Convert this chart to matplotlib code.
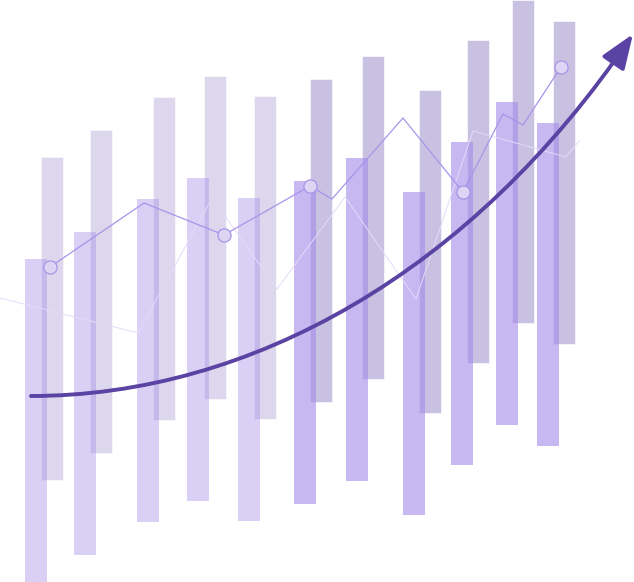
import matplotlib
matplotlib.use("Agg")
import matplotlib.pyplot as plt
from matplotlib.path import Path
from matplotlib.patches import FancyArrowPatch

# bar positions (pixel-like units, y grows downward)
back_left = [41, 90, 153, 204, 254, 310, 362, 419, 467, 512, 553]
back_top = [157, 130, 97, 76, 96, 79, 56, 90, 40, 0, 21]
front_left = [25, 74, 137, 187, 238, 294, 346, 403, 451, 496, 537]
front_top = [259, 232, 199, 178, 198, 181, 158, 192, 142, 102, 123]
bar_len = 323
bar_w = 22

# thin line with hollow markers
line_x = [50, 144, 224, 310, 332, 403, 463, 503, 523, 561]
line_y = [267, 203, 235, 186, 199, 118, 192, 114, 125, 67]
marker_idx = [0, 2, 3, 6, 9]

# faint background line
faint_x = [0, 138, 212, 277, 345, 416, 473, 566, 579]
faint_y = [298, 333, 198, 289, 197, 299, 131, 157, 141]

# trend arrow (cubic bezier control points)
arrow_pts = [(31, 396), (250, 396), (472, 272), (633, 34)]

fig = plt.figure(figsize=(6.34, 5.82), dpi=100)
ax = fig.add_axes([0, 0, 1, 1])
ax.set_xlim(0, 634)
ax.set_ylim(582, 0)
ax.axis("off")

back_cols = ["#dcd7ec"] * 5 + ["#c9c1e2"] * 6
ax.bar(back_left, [bar_len] * 11, width=bar_w, bottom=back_top, align="edge",
       color=back_cols, edgecolor="white", linewidth=0.4, zorder=1)

front_alpha = [0.4] * 5 + [0.6] * 6
for x, t, a in zip(front_left, front_top, front_alpha):
    ax.bar(x, bar_len, width=bar_w, bottom=t, align="edge",
           color="#a48ae9", alpha=a, linewidth=0, zorder=2)

ax.plot(faint_x, faint_y, color="#e2dbf9", lw=0.7, zorder=3)

ax.plot(line_x, line_y, color="#a695e9", lw=0.9, zorder=4)
ax.plot([line_x[i] for i in marker_idx], [line_y[i] for i in marker_idx],
        "o", ms=9.5, mfc="#ddd5f4", mec="#a695e9", mew=0.9, zorder=5)

path = Path(arrow_pts, [Path.MOVETO, Path.CURVE4, Path.CURVE4, Path.CURVE4])
arrow = FancyArrowPatch(path=path, arrowstyle="-|>,head_length=2.1,head_width=0.8",
                        mutation_scale=10, color="#5a43a3", lw=2.8, zorder=6)
ax.add_patch(arrow)

fig.savefig("out.png", dpi=100)
